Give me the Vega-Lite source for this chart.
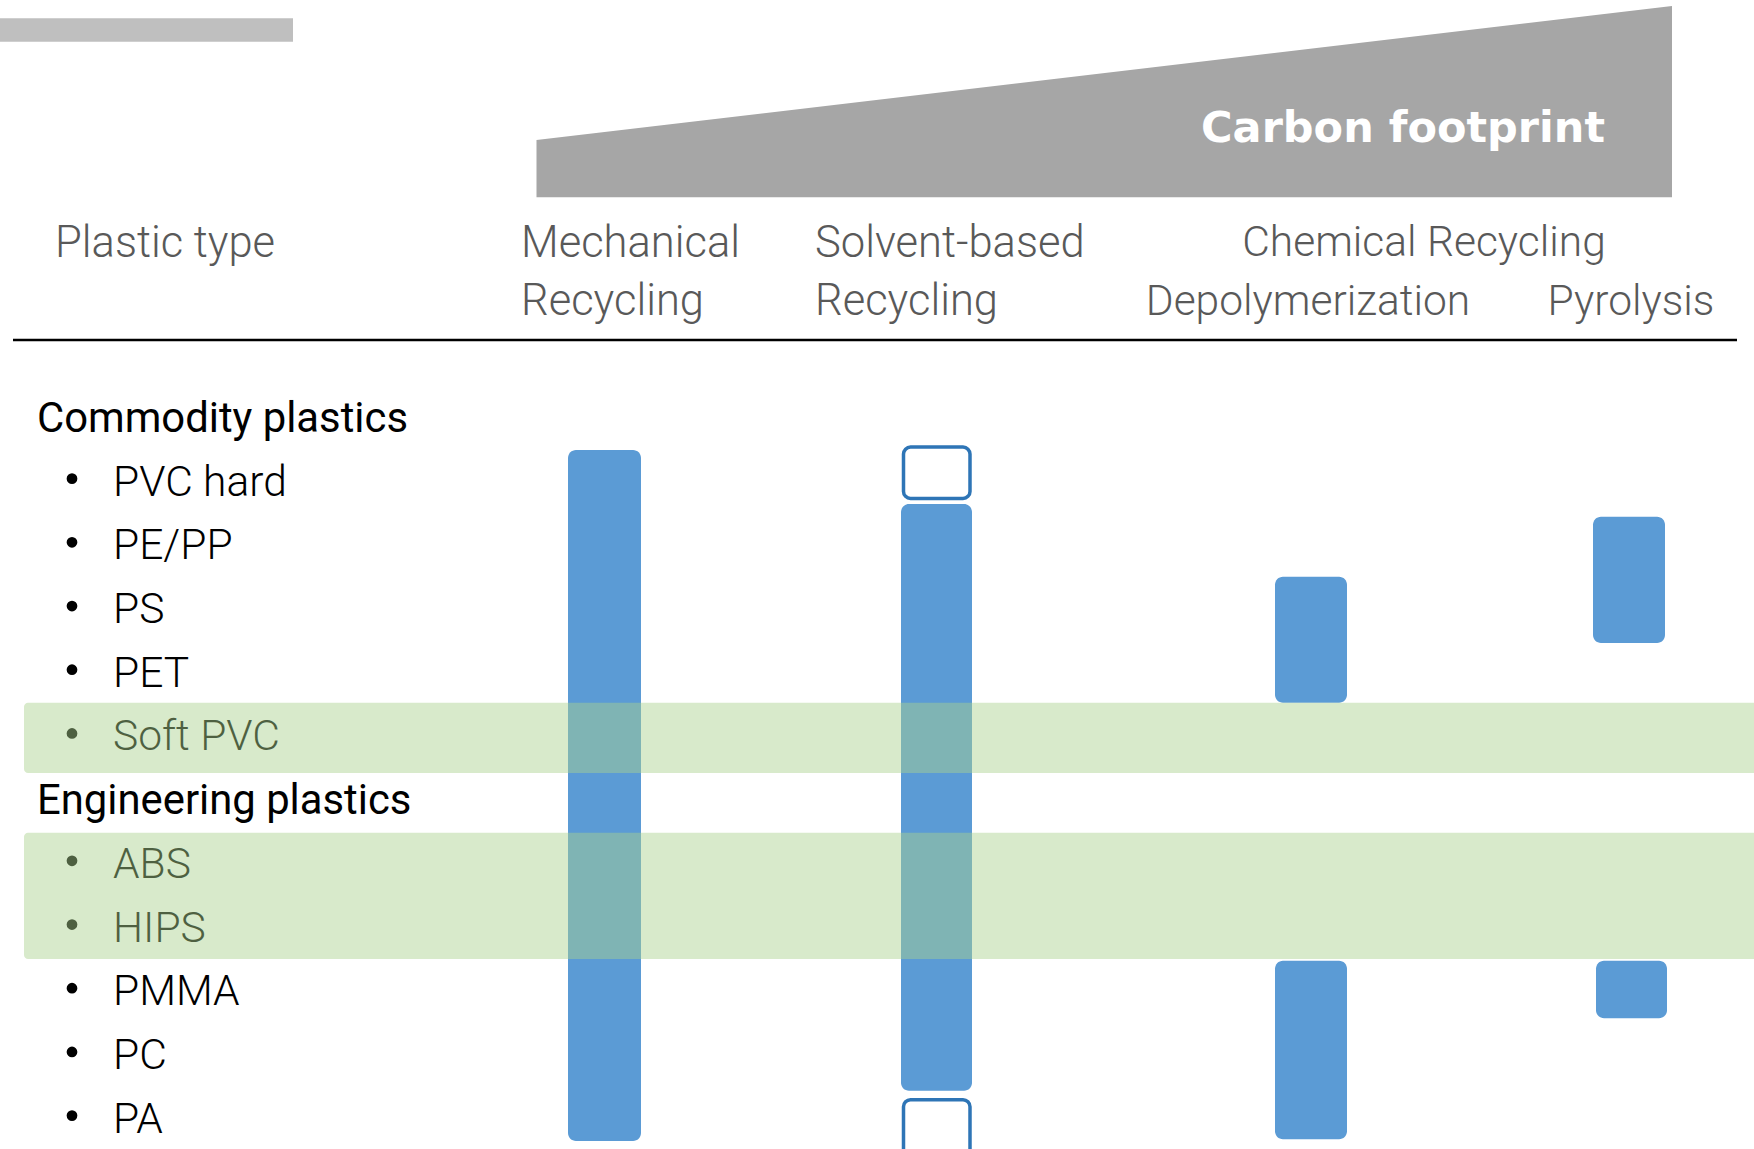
{
  "$schema": "https://vega.github.io/schema/vega-lite/v6.json",
  "width": 1754,
  "height": 1149,
  "autosize": {"type": "fit", "contains": "padding"},
  "padding": 0,
  "background": "white",
  "config": {"view": {"stroke": null}},
  "datasets": {
    "topbar": [{"x0": 0, "x1": 293, "y0": -6.267, "y1": -5.9}],
    "wedge": [
      {"x": 536.5, "ytop": -4.356, "ybot": -3.457},
      {"x": 1672, "ytop": -6.46, "ybot": -3.457}
    ],
    "wedgelabel": [{"x": 1605, "y": -4.33, "label": "Carbon footprint"}],
    "headers": [
      {"x": 55, "y": -2.52, "label": "Plastic type"},
      {"x": 521, "y": -2.52, "label": "Mechanical"},
      {"x": 521, "y": -1.61, "label": "Recycling"},
      {"x": 815, "y": -2.52, "label": "Solvent-based"},
      {"x": 815, "y": -1.61, "label": "Recycling"}
    ],
    "chemheaders": [
      {"x": 1424, "y": -2.54, "label": "Chemical Recycling"},
      {"x": 1308, "y": -1.61, "label": "Depolymerization"},
      {"x": 1631, "y": -1.61, "label": "Pyrolysis"}
    ],
    "divider": [{"x0": 13, "x1": 1737, "y": -1.217}],
    "bars": [
      {"method": "Mechanical Recycling", "x0": 568, "x1": 641, "y0": 0.51, "y1": 11.36},
      {"method": "Solvent-based Recycling", "x0": 901, "x1": 972, "y0": 1.36, "y1": 10.57},
      {"method": "Depolymerization", "x0": 1275, "x1": 1347, "y0": 2.5, "y1": 4.48},
      {"method": "Depolymerization", "x0": 1275, "x1": 1347, "y0": 8.53, "y1": 11.33},
      {"method": "Pyrolysis", "x0": 1593, "x1": 1665, "y0": 1.56, "y1": 3.54},
      {"method": "Pyrolysis", "x0": 1596, "x1": 1667, "y0": 8.53, "y1": 9.43}
    ],
    "outlines": [
      {"method": "Solvent-based Recycling", "x0": 903.5, "x1": 970, "y0": 0.465, "y1": 1.27},
      {"method": "Solvent-based Recycling", "x0": 903.5, "x1": 970, "y0": 10.71, "y1": 11.6}
    ],
    "groups": [
      {"label": "Commodity plastics", "x": 37, "y": 0.228},
      {"label": "Engineering plastics", "x": 37, "y": 6.228}
    ],
    "items": [
      {"label": "PVC hard", "x": 113, "y": 1.228, "by": 0.96},
      {"label": "PE/PP", "x": 113, "y": 2.228, "by": 1.96},
      {"label": "PS", "x": 113, "y": 3.228, "by": 2.96},
      {"label": "PET", "x": 113, "y": 4.228, "by": 3.96},
      {"label": "Soft PVC", "x": 113, "y": 5.228, "by": 4.96},
      {"label": "ABS", "x": 113, "y": 7.228, "by": 6.96},
      {"label": "HIPS", "x": 113, "y": 8.228, "by": 7.96},
      {"label": "PMMA", "x": 113, "y": 9.228, "by": 8.96},
      {"label": "PC", "x": 113, "y": 10.228, "by": 9.96},
      {"label": "PA", "x": 113, "y": 11.228, "by": 10.96}
    ],
    "bands": [
      {"x0": 24, "x1": 1770, "y0": 4.48, "y1": 5.58},
      {"x0": 24, "x1": 1770, "y0": 6.52, "y1": 8.5}
    ]
  },
  "layer": [
    {
      "data": {"name": "topbar"},
      "mark": {"type": "rect", "color": "#BFBFBF"},
      "encoding": {
        "x": {"field": "x0", "type": "quantitative", "axis": null, "scale": {"domain": [0, 1754], "nice": false, "zero": false}},
        "x2": {"field": "x1"},
        "y": {"field": "y0", "type": "quantitative", "axis": null, "scale": {"domain": [-6.554, 11.484], "nice": false, "zero": false, "reverse": true}},
        "y2": {"field": "y1"}
      }
    },
    {
      "data": {"name": "wedge"},
      "mark": {"type": "area", "color": "#A6A6A6", "interpolate": "linear"},
      "encoding": {
        "x": {"field": "x", "type": "quantitative", "axis": null, "scale": {"domain": [0, 1754], "nice": false, "zero": false}},
        "y": {"field": "ytop", "type": "quantitative", "axis": null, "scale": {"domain": [-6.554, 11.484], "nice": false, "zero": false, "reverse": true}},
        "y2": {"field": "ybot"}
      }
    },
    {
      "data": {"name": "wedgelabel"},
      "mark": {"type": "text", "align": "right", "baseline": "alphabetic", "font": "DejaVu Sans", "fontWeight": "bold", "fontSize": 43, "color": "white"},
      "encoding": {
        "x": {"field": "x", "type": "quantitative", "axis": null, "scale": {"domain": [0, 1754], "nice": false, "zero": false}},
        "y": {"field": "y", "type": "quantitative", "axis": null, "scale": {"domain": [-6.554, 11.484], "nice": false, "zero": false, "reverse": true}},
        "text": {"field": "label"}
      }
    },
    {
      "data": {"name": "headers"},
      "mark": {"type": "text", "align": "left", "baseline": "alphabetic", "font": "Roboto", "fontWeight": 300, "fontSize": 43.5, "color": "#595959"},
      "encoding": {
        "x": {"field": "x", "type": "quantitative", "axis": null, "scale": {"domain": [0, 1754], "nice": false, "zero": false}},
        "y": {"field": "y", "type": "quantitative", "axis": null, "scale": {"domain": [-6.554, 11.484], "nice": false, "zero": false, "reverse": true}},
        "text": {"field": "label"}
      }
    },
    {
      "data": {"name": "chemheaders"},
      "mark": {"type": "text", "align": "center", "baseline": "alphabetic", "font": "Roboto", "fontWeight": 300, "fontSize": 42.5, "color": "#595959"},
      "encoding": {
        "x": {"field": "x", "type": "quantitative", "axis": null, "scale": {"domain": [0, 1754], "nice": false, "zero": false}},
        "y": {"field": "y", "type": "quantitative", "axis": null, "scale": {"domain": [-6.554, 11.484], "nice": false, "zero": false, "reverse": true}},
        "text": {"field": "label"}
      }
    },
    {
      "data": {"name": "divider"},
      "mark": {"type": "rule", "color": "black", "strokeWidth": 2.5},
      "encoding": {
        "x": {"field": "x0", "type": "quantitative", "axis": null, "scale": {"domain": [0, 1754], "nice": false, "zero": false}},
        "x2": {"field": "x1"},
        "y": {"field": "y", "type": "quantitative", "axis": null, "scale": {"domain": [-6.554, 11.484], "nice": false, "zero": false, "reverse": true}}
      }
    },
    {
      "data": {"name": "bars"},
      "mark": {"type": "rect", "color": "#5B9BD5", "cornerRadius": 8},
      "encoding": {
        "x": {"field": "x0", "type": "quantitative", "axis": null, "scale": {"domain": [0, 1754], "nice": false, "zero": false}},
        "x2": {"field": "x1"},
        "y": {"field": "y0", "type": "quantitative", "axis": null, "scale": {"domain": [-6.554, 11.484], "nice": false, "zero": false, "reverse": true}},
        "y2": {"field": "y1"}
      }
    },
    {
      "data": {"name": "outlines"},
      "mark": {"type": "rect", "fill": "white", "stroke": "#2E75B6", "strokeWidth": 3.5, "cornerRadius": 7, "clip": true},
      "encoding": {
        "x": {"field": "x0", "type": "quantitative", "axis": null, "scale": {"domain": [0, 1754], "nice": false, "zero": false}},
        "x2": {"field": "x1"},
        "y": {"field": "y0", "type": "quantitative", "axis": null, "scale": {"domain": [-6.554, 11.484], "nice": false, "zero": false, "reverse": true}},
        "y2": {"field": "y1"}
      }
    },
    {
      "data": {"name": "groups"},
      "mark": {"type": "text", "align": "left", "baseline": "alphabetic", "font": "Roboto", "fontWeight": 400, "fontSize": 41.8, "color": "black"},
      "encoding": {
        "x": {"field": "x", "type": "quantitative", "axis": null, "scale": {"domain": [0, 1754], "nice": false, "zero": false}},
        "y": {"field": "y", "type": "quantitative", "axis": null, "scale": {"domain": [-6.554, 11.484], "nice": false, "zero": false, "reverse": true}},
        "text": {"field": "label"}
      }
    },
    {
      "data": {"name": "items"},
      "mark": {"type": "text", "align": "left", "baseline": "alphabetic", "font": "Roboto", "fontWeight": 300, "fontSize": 42.5, "color": "black"},
      "encoding": {
        "x": {"field": "x", "type": "quantitative", "axis": null, "scale": {"domain": [0, 1754], "nice": false, "zero": false}},
        "y": {"field": "y", "type": "quantitative", "axis": null, "scale": {"domain": [-6.554, 11.484], "nice": false, "zero": false, "reverse": true}},
        "text": {"field": "label"}
      }
    },
    {
      "data": {"name": "items"},
      "mark": {"type": "point", "shape": "circle", "filled": true, "size": 115, "color": "black", "opacity": 1},
      "encoding": {
        "x": {"datum": 72, "type": "quantitative", "axis": null, "scale": {"domain": [0, 1754], "nice": false, "zero": false}},
        "y": {"field": "by", "type": "quantitative", "axis": null, "scale": {"domain": [-6.554, 11.484], "nice": false, "zero": false, "reverse": true}}
      }
    },
    {
      "data": {"name": "bands"},
      "mark": {"type": "rect", "color": "#A9D18E", "opacity": 0.46, "cornerRadius": 4, "clip": true},
      "encoding": {
        "x": {"field": "x0", "type": "quantitative", "axis": null, "scale": {"domain": [0, 1754], "nice": false, "zero": false}},
        "x2": {"field": "x1"},
        "y": {"field": "y0", "type": "quantitative", "axis": null, "scale": {"domain": [-6.554, 11.484], "nice": false, "zero": false, "reverse": true}},
        "y2": {"field": "y1"}
      }
    }
  ]
}
